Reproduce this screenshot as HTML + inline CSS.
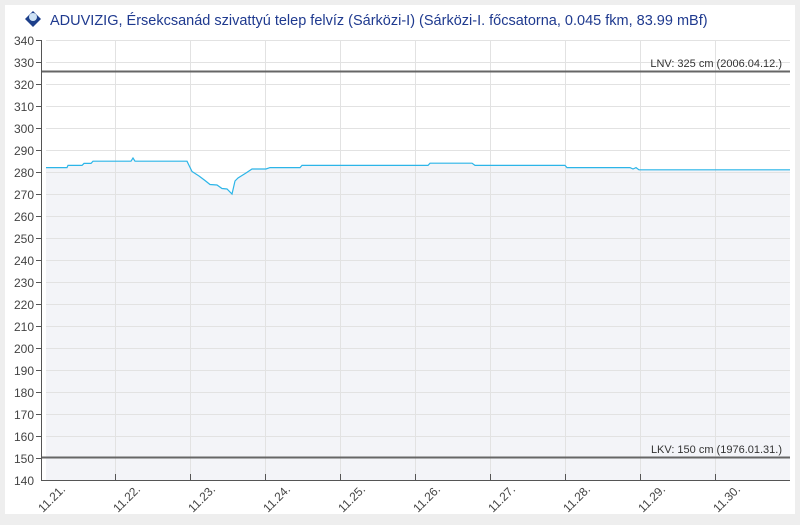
<!DOCTYPE html><html><head><style>body{margin:0;background:#eee;font-family:"Liberation Sans",sans-serif}</style></head><body>
<svg width="800" height="520" xmlns="http://www.w3.org/2000/svg" font-family="Liberation Sans, sans-serif">
<rect x="0" y="0" width="800" height="520" fill="#eeeeee"/>
<rect x="5" y="5" width="790" height="509" fill="#fff"/>
<g transform="translate(33,19)"><path d="M-8,0 L0,-8 L8,0 L0,8Z" fill="#1d3f8a"/><circle cx="0" cy="-2" r="4" fill="#cfe3f5"/></g>
<text x="50" y="25" font-size="14.5" fill="#1f3a8f">ADUVIZIG, Érsekcsanád szivattyú telep felvíz  (Sárközi-I) (Sárközi-I. főcsatorna, 0.045 fkm, 83.99 mBf)</text>
<path d="M46,167.6 L67,167.6 L68,165.4 L82,165.4 L84,163.4 L91,163.4 L93,161.2 L131,161.2 L133,158 L135,161.2 L187,161.2 L192,171.5 L199,176 L205,180.5 L210,184.5 L217,185 L222,188.5 L227,189 L232,194 L235,181 L238,178 L246,173 L252,169 L266,169 L270,167.6 L300,167.6 L302,165.4 L428,165.4 L430,163.2 L472,163.2 L475,165.4 L565,165.4 L567,167.6 L630,167.6 L633,169 L636,167.6 L639,169.8 L790,169.8 L790,480 L46,480Z" fill="#f3f4f8"/>
<g stroke="#e2e2e2" stroke-width="1">
<path d="M46,40.5H790M46,62.5H790M46,84.5H790M46,106.5H790M46,128.5H790M46,150.5H790M46,172.5H790M46,194.5H790M46,216.5H790M46,238.5H790M46,260.5H790M46,282.5H790M46,304.5H790M46,326.5H790M46,348.5H790M46,370.5H790M46,392.5H790M46,414.5H790M46,436.5H790"/>
<path d="M115.5,40V480M190.5,40V480M265.5,40V480M340.5,40V480M415.5,40V480M490.5,40V480M565.5,40V480M640.5,40V480M715.5,40V480"/>
</g>
<path d="M46,167.6 L67,167.6 L68,165.4 L82,165.4 L84,163.4 L91,163.4 L93,161.2 L131,161.2 L133,158 L135,161.2 L187,161.2 L192,171.5 L199,176 L205,180.5 L210,184.5 L217,185 L222,188.5 L227,189 L232,194 L235,181 L238,178 L246,173 L252,169 L266,169 L270,167.6 L300,167.6 L302,165.4 L428,165.4 L430,163.2 L472,163.2 L475,165.4 L565,165.4 L567,167.6 L630,167.6 L633,169 L636,167.6 L639,169.8 L790,169.8" fill="none" stroke="#2cb5e8" stroke-width="1.2"/>
<path d="M41,71.5H790M41,457.5H790" stroke="#666" stroke-width="2"/>
<text x="782" y="67" font-size="11" fill="#333" text-anchor="end">LNV: 325 cm (2006.04.12.)</text>
<text x="782" y="453" font-size="11" fill="#333" text-anchor="end">LKV: 150 cm (1976.01.31.)</text>
<path d="M41.5,40V480.5H790" stroke="#555" fill="none"/>
<g stroke="#555"><path d="M36,40.5h5M36,62.5h5M36,84.5h5M36,106.5h5M36,128.5h5M36,150.5h5M36,172.5h5M36,194.5h5M36,216.5h5M36,238.5h5M36,260.5h5M36,282.5h5M36,304.5h5M36,326.5h5M36,348.5h5M36,370.5h5M36,392.5h5M36,414.5h5M36,436.5h5M36,458.5h5"/>
<path d="M115.5,480v-6M190.5,480v-6M265.5,480v-6M340.5,480v-6M415.5,480v-6M490.5,480v-6M565.5,480v-6M640.5,480v-6M715.5,480v-6"/></g>
<g font-size="12" fill="#444" text-anchor="end">
<text x="34" y="45">340</text><text x="34" y="67">330</text><text x="34" y="89">320</text><text x="34" y="111">310</text><text x="34" y="133">300</text><text x="34" y="155">290</text><text x="34" y="177">280</text><text x="34" y="199">270</text><text x="34" y="221">260</text><text x="34" y="243">250</text><text x="34" y="265">240</text><text x="34" y="287">230</text><text x="34" y="309">220</text><text x="34" y="331">210</text><text x="34" y="353">200</text><text x="34" y="375">190</text><text x="34" y="397">180</text><text x="34" y="419">170</text><text x="34" y="441">160</text><text x="34" y="463">150</text><text x="34" y="485">140</text>
</g>
<g font-size="12" fill="#444" text-anchor="end">
<text transform="translate(66,490) rotate(-45)">11.21.</text>
<text transform="translate(141,490) rotate(-45)">11.22.</text>
<text transform="translate(216,490) rotate(-45)">11.23.</text>
<text transform="translate(291,490) rotate(-45)">11.24.</text>
<text transform="translate(366,490) rotate(-45)">11.25.</text>
<text transform="translate(441,490) rotate(-45)">11.26.</text>
<text transform="translate(516,490) rotate(-45)">11.27.</text>
<text transform="translate(591,490) rotate(-45)">11.28.</text>
<text transform="translate(666,490) rotate(-45)">11.29.</text>
<text transform="translate(741,490) rotate(-45)">11.30.</text>
</g>
</svg></body></html>
